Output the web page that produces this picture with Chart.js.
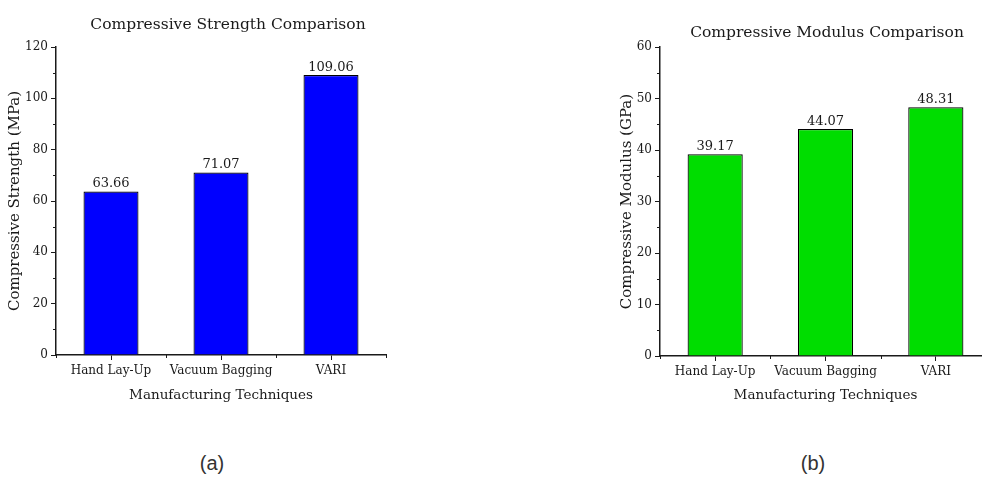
<!DOCTYPE html>
<html>
<head>
<meta charset="utf-8">
<title>Compressive Strength and Modulus Comparison</title>
<script src="https://cdn.jsdelivr.net/npm/chart.js@4.4.0/dist/chart.umd.min.js"></script>
<style>
  html, body { margin: 0; padding: 0; background: #fff; width: 982px; height: 480px; overflow: hidden; }
  .panel { position: absolute; top: 0; height: 420px; }
  .panel canvas { display: block; }
  .cap { position: absolute; top: 452px; transform: translateX(-50%);
         font-family: "Liberation Sans", Arial, sans-serif; font-size: 20px; color: #333; }
</style>
</head>
<body>
<div class="panel" style="left:0;width:456px"><canvas id="strengthChart" width="456" height="420"></canvas></div>
<div class="panel" style="left:600px;width:454px"><canvas id="modulusChart" width="454" height="420"></canvas></div>
<div class="cap" style="left:212px">(a)</div>
<div class="cap" style="left:813px">(b)</div>

<script>
// Manufacturing routes compared in both panels
const techniques = ['Hand Lay-Up', 'Vacuum Bagging', 'VARI'];

// Measured compressive properties
const strengthMPa = [63.66, 71.07, 109.06];
const modulusGPa = [39.17, 44.07, 48.31];

// Labelled y-axis ticks for each panel
const strengthTicks = [0, 20, 40, 60, 80, 100, 120];
const modulusTicks = [0, 10, 20, 30, 40, 50, 60];

const SERIF = '"DejaVu Serif", "Liberation Serif", serif';
const INK = '#1a1a1a';

// Panel heading, centred on the canvas
const panelTitle = {
  id: 'panelTitle',
  afterDraw(chart, args, opts) {
    const ctx = chart.ctx;
    ctx.save();
    ctx.font = opts.size + 'px ' + SERIF;
    ctx.fillStyle = INK;
    ctx.textAlign = 'center';
    ctx.textBaseline = 'middle';
    ctx.fillText(opts.text, chart.width / 2, opts.y);
    ctx.restore();
  }
};

// Short unlabelled ticks halfway between labelled y ticks and at category boundaries
const minorTicks = {
  id: 'minorTicks',
  afterDraw(chart) {
    const ctx = chart.ctx;
    const x = chart.scales.x, y = chart.scales.y;
    const len = 3;
    ctx.save();
    ctx.strokeStyle = INK;
    ctx.lineWidth = 1;
    ctx.beginPath();
    const vals = y.ticks.map(t => t.value);
    for (let i = 0; i < vals.length - 1; i++) {
      const py = Math.round(y.getPixelForValue((vals[i] + vals[i + 1]) / 2)) + 0.5;
      ctx.moveTo(x.left - len, py);
      ctx.lineTo(x.left, py);
    }
    for (let i = 0; i <= chart.data.labels.length; i++) {
      const px = Math.round(x.getPixelForValue(i - 0.5)) + 0.5;
      ctx.moveTo(px, y.bottom);
      ctx.lineTo(px, y.bottom + len);
    }
    ctx.stroke();
    ctx.restore();
  }
};

// Value written above each bar
const barValues = {
  id: 'barValues',
  afterDatasetsDraw(chart) {
    const ctx = chart.ctx;
    ctx.save();
    ctx.font = '13px ' + SERIF;
    ctx.fillStyle = INK;
    ctx.textAlign = 'center';
    ctx.textBaseline = 'bottom';
    chart.data.datasets.forEach((ds, di) => {
      chart.getDatasetMeta(di).data.forEach((bar, i) => {
        ctx.fillText(ds.data[i].toFixed(2), bar.x, bar.y - 1);
      });
    });
    ctx.restore();
  }
};

function makeChart(id, cfg) {
  return new Chart(document.getElementById(id), {
    type: 'bar',
    data: {
      labels: techniques,
      datasets: [{
        data: cfg.values,
        backgroundColor: cfg.color,
        borderColor: '#000',
        borderWidth: 1.2,
        barPercentage: 1,
        categoryPercentage: 0.5
      }]
    },
    options: {
      responsive: false,
      animation: false,
      layout: { padding: { left: 0, top: 47, bottom: 0, right: cfg.padRight } },
      plugins: {
        legend: { display: false },
        tooltip: { enabled: false },
        title: { display: false },
        panelTitle: { text: cfg.title, y: cfg.titleY, size: 15.5 }
      },
      scales: {
        x: {
          offset: true,
          border: { color: INK, width: 1.5 },
          grid: { offset: false, drawOnChartArea: false, tickLength: 5, color: INK, lineWidth: 1 },
          ticks: { color: INK, padding: 4, font: { family: SERIF, size: 12 }, maxRotation: 0 },
          title: {
            display: true,
            text: 'Manufacturing Techniques',
            color: INK,
            font: { family: SERIF, size: 13.5 },
            padding: { top: 0, bottom: 16 }
          },
          afterFit(s) { s.height = cfg.xHeight; }
        },
        y: {
          min: cfg.ticks[0],
          max: cfg.ticks[cfg.ticks.length - 1],
          border: { color: INK, width: 1.5 },
          grid: { drawOnChartArea: false, tickLength: 5, color: INK, lineWidth: 1 },
          ticks: { color: INK, padding: 3, font: { family: SERIF, size: 12 } },
          afterBuildTicks(s) { s.ticks = cfg.ticks.map(v => ({ value: v })); },
          title: {
            display: true,
            text: cfg.yTitle,
            color: INK,
            font: { family: SERIF, size: 15 },
            padding: { top: cfg.yTitlePad, bottom: 0 }
          },
          afterFit(s) { s.width = cfg.yWidth; }
        }
      }
    },
    plugins: [panelTitle, minorTicks, barValues]
  });
}

makeChart('strengthChart', {
  values: strengthMPa,
  ticks: strengthTicks,
  color: '#0000ff',
  title: 'Compressive Strength Comparison',
  yTitle: 'Compressive Strength (MPa)',
  padRight: 70, titleY: 25,
  xHeight: 65, yWidth: 56, yTitlePad: 6
});

makeChart('modulusChart', {
  values: modulusGPa,
  ticks: modulusTicks,
  color: '#00dd00',
  title: 'Compressive Modulus Comparison',
  yTitle: 'Compressive Modulus (GPa)',
  padRight: 63, titleY: 33,
  xHeight: 64, yWidth: 60, yTitlePad: 18
});
</script>
</body>
</html>
